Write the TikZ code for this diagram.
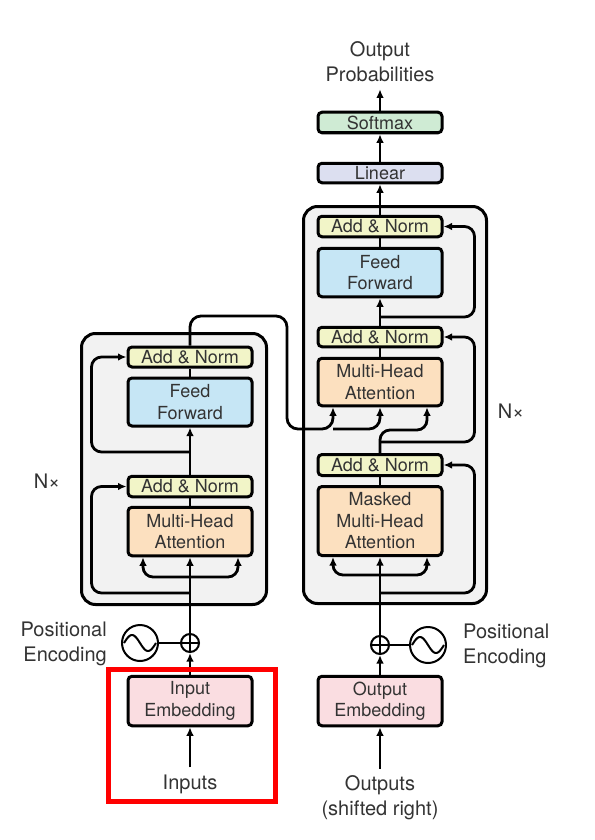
\documentclass[tikz,border=0pt]{standalone}
\usepackage{fontspec}
\setmainfont{TeX Gyre Heros}
\usetikzlibrary{arrows.meta}
\definecolor{cinza}{HTML}{F2F2F2}
\definecolor{texto}{HTML}{333333}
\definecolor{corAN}{HTML}{F2F5C8}
\definecolor{corFF}{HTML}{C6E6F5}
\definecolor{corMHA}{HTML}{FCE0BF}
\definecolor{corEmb}{HTML}{FADDE1}
\definecolor{corSoft}{HTML}{CFEBD4}
\definecolor{corLin}{HTML}{DCDFF0}
\begin{document}
\begin{tikzpicture}[x=1pt, y=-1pt,
    bloco/.style={draw=black, line width=3pt, rounded corners=4pt, minimum width=124pt, inner sep=0pt, align=center, text=texto, font=\fontsize{18}{21.5}\selectfont},
    addnorm/.style={bloco, fill=corAN, minimum height=20pt},
    ffwd/.style={bloco, fill=corFF, minimum height=48pt},
    atencao/.style={bloco, fill=corMHA, minimum height=48pt},
    embed/.style={bloco, fill=corEmb, minimum height=49.5pt},
    camada/.style={draw=black, line width=3pt, rounded corners=14pt, fill=cinza, inner sep=0pt},
    rotulo/.style={text=texto, align=center, inner sep=7pt, font=\fontsize{20}{25}\selectfont},
    somador/.style={circle, draw=black, line width=2pt, fill=white, minimum size=18pt, inner sep=0pt},
    onda/.style={circle, draw=black, line width=2pt, fill=white, minimum size=36pt, inner sep=0pt},
    fio/.style={line width=2.8pt, black},
    seta/.style={fio, -{Latex[length=8.5pt, width=7.5pt]}},
]
    \useasboundingbox (0,0) rectangle (594,840);

    % Camadas (fundo cinza)
    \node[camada, minimum width=185pt, minimum height=271pt] (enc) at (174,469) {};
    \node[camada, minimum width=183pt, minimum height=397pt] (dec) at (395,405) {};

    % Codificador
    \node[addnorm] (encAN2) at (190,357) {Add \& Norm};
    \node[ffwd] (encFF) at (190,402) {Feed\\Forward};
    \node[addnorm, minimum height=20.5pt] (encAN1) at (190,486.5) {Add \& Norm};
    \node[atencao, minimum height=48.5pt] (encMHA) at (190,531.5) {Multi-Head\\Attention};
    \node[somador] (encPlus) at (190,643) {};
    \node[onda] (encPE) at (140,643) {};
    \node[embed] (encEmb) at (190,701) {Input\\Embedding};
    \node[rotulo] (inputs) at (190,784) {Inputs};
    \node[rotulo, anchor=east, align=right] (encPEtxt) at (114,644) {Positional\\Encoding};
    \node[rotulo] (encN) at (47,481) {N×};

    % Decodificador
    \node[addnorm, minimum height=20.5pt] (decAN3) at (380,226.5) {Add \& Norm};
    \node[ffwd, minimum height=48.5pt] (decFF) at (380,272.5) {Feed\\Forward};
    \node[addnorm, minimum height=19.5pt] (decAN2) at (380,337) {Add \& Norm};
    \node[atencao, minimum height=47.5pt] (decMHA2) at (380,382) {Multi-Head\\Attention};
    \node[addnorm, minimum height=21pt] (decAN1) at (380,465) {Add \& Norm};
    \node[atencao, minimum height=69pt] (decMHA1) at (380,521) {Masked\\Multi-Head\\Attention};
    \node[somador] (decPlus) at (380,645) {};
    \node[onda] (decPE) at (428,645) {};
    \node[embed] (decEmb) at (380,701) {Output\\Embedding};
    \node[rotulo] (outputs) at (380,798) {Outputs\\(shifted right)};
    \node[rotulo, anchor=west, align=left] (decPEtxt) at (456,646) {Positional\\Encoding};
    \node[rotulo] (decN) at (511,411) {N×};

    % Saida
    \node[bloco, fill=corLin, minimum height=19.5pt] (linear) at (380,173) {Linear};
    \node[bloco, fill=corSoft, minimum height=20.5pt] (softmax) at (380,122.5) {Softmax};
    \node[rotulo] (outprob) at (380,62) {Output\\Probabilities};

    % Codificacao posicional
    \foreach \pe/\soma in {encPE/encPlus, decPE/decPlus} {
        \draw[line width=2pt, shift={(\pe.center)}] plot[domain=-1:1, samples=41, smooth] ({16*\x}, {8*sin(180*\x)});
        \draw[line width=1.8pt] (\soma.north) -- (\soma.south) (\soma.west) -- (\soma.east);
        \draw[fio, line width=2.2pt] (\pe) -- (\soma);
    }

    % Fluxo do codificador
    \draw[seta] (inputs) -- (encEmb);
    \draw[seta] (encEmb) -- (encPlus);
    \draw[seta] (encPlus) -- (encMHA);
    \coordinate (encK) at (190,577);
    \draw[seta, rounded corners=10pt] (encK) -| ([xshift=-47pt]encMHA.south);
    \draw[seta, rounded corners=10pt] (encK) -| ([xshift=48pt]encMHA.south);
    \coordinate (encR1) at (190,593);
    \draw[seta, rounded corners=10pt] (encR1) -| ([xshift=-35pt]encAN1.west) -- (encAN1.west);
    \draw[fio] (encMHA) -- (encAN1);
    \draw[seta] (encAN1) -- (encFF);
    \coordinate (encR2) at (190,452);
    \draw[seta, rounded corners=10pt] (encR2) -| ([xshift=-35pt]encAN2.west) -- (encAN2.west);
    \draw[fio] (encFF) -- (encAN2);

    % Saida do codificador -> atencao do decodificador
    \coordinate (encTop) at (287,316);
    \coordinate (kv) at (333,429);
    \draw[seta, rounded corners=11pt] (encAN2.north) |- (encTop) |- (kv) -- (decMHA2.south -| kv);
    \draw[seta, rounded corners=11pt] (kv) -| (decMHA2.south);

    % Fluxo do decodificador
    \draw[seta] (outputs) -- (decEmb);
    \draw[seta] (decEmb) -- (decPlus);
    \draw[seta] (decPlus) -- (decMHA1);
    \coordinate (decK) at (380,575);
    \draw[seta, rounded corners=10pt] (decK) -| ([xshift=-47pt]decMHA1.south);
    \draw[seta, rounded corners=10pt] (decK) -| ([xshift=47pt]decMHA1.south);
    \coordinate (decR1) at (380,593);
    \draw[seta, rounded corners=10pt] (decR1) -| ([xshift=31pt]decAN1.east) -- (decAN1.east);
    \draw[fio] (decMHA1) -- (decAN1);
    \coordinate (q) at (427,430);
    \draw[seta, rounded corners=10pt] (decAN1.north) |- (q) -- (decMHA2.south -| q);
    \coordinate (decR2) at (380,442);
    \draw[seta, rounded corners=10pt] (decR2) -| ([xshift=31pt]decAN2.east) -- (decAN2.east);
    \draw[fio] (decMHA2) -- (decAN2);
    \draw[seta] (decAN2) -- (decFF);
    \coordinate (decR3) at (380,317);
    \draw[seta, rounded corners=10pt] (decR3) -| ([xshift=31pt]decAN3.east) -- (decAN3.east);
    \draw[fio] (decFF) -- (decAN3);
    \draw[seta] (decAN3) -- (linear);
    \draw[seta] (linear) -- (softmax);
    \draw[seta] (softmax) -- (outprob);

    % Destaque
    \draw[red, line width=5pt] (108.5,669.5) rectangle (275.5,801.5);
\end{tikzpicture}
\end{document}
